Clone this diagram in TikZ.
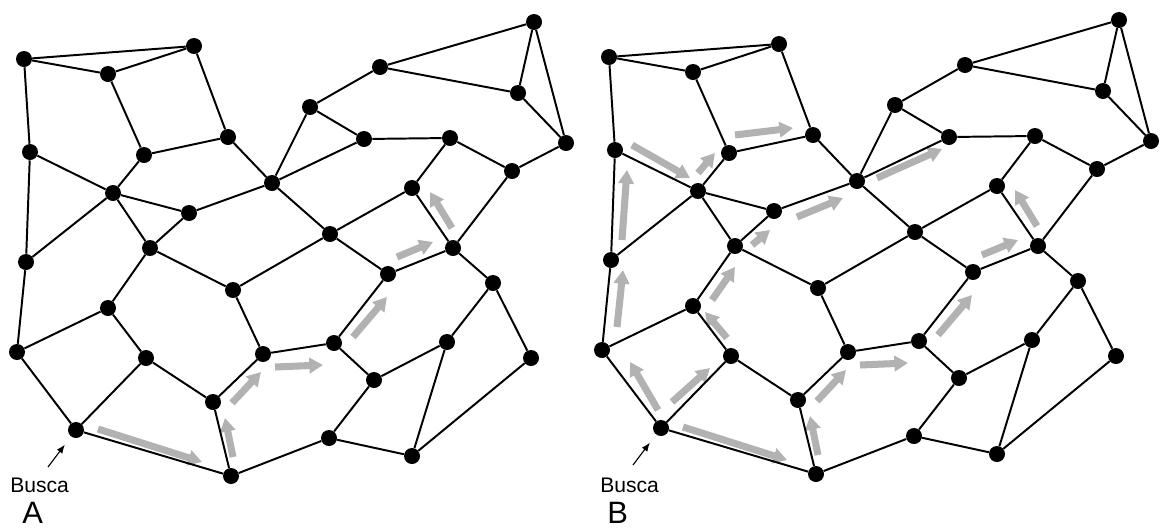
\documentclass[tikz,border=0pt]{standalone}
\usepackage{fontspec}
\newfontfamily\rotulofont{Liberation Sans}
\usetikzlibrary{arrows.meta}

% grafo: vertices e arestas (#1 = prefixo dos nomes)
\newcommand{\grafo}[1]{%
  \foreach \n/\x/\y in {1/24/59, 2/108/74, 3/194/46, 4/228/137, 5/144/155,
      6/30/152, 7/113/193, 8/189/213, 9/272/183, 10/150/248, 11/26/262,
      12/108/308, 13/233/290, 14/146/358, 15/17/352, 16/76/430, 17/213/402,
      18/263/354, 19/231/476, 20/330/234, 21/310/107, 22/380/67, 23/364/139,
      24/450/138, 25/534/22, 26/518/93, 27/566/143, 28/512/171, 29/412/188,
      30/453/248, 31/388/274, 32/334/343, 33/493/283, 34/374/380, 35/447/342,
      36/531/358, 37/329/438, 38/412/456}
    \node[vertice] (#1\n) at (\x,\y) {};
  \foreach \p/\q in {1/2, 1/3, 2/3, 1/6, 2/5, 3/4, 4/5, 4/9, 5/7, 6/7, 6/11,
      7/8, 7/10, 7/11, 8/9, 8/10, 9/20, 9/21, 9/23, 10/12, 10/13, 11/15,
      12/14, 12/15, 13/18, 13/20, 14/16, 14/17, 15/16, 16/19, 17/18, 17/19,
      18/32, 19/37, 20/31, 21/22, 21/23, 22/25, 22/26, 23/24, 24/28, 24/29,
      25/26, 25/27, 26/27, 27/28, 28/30, 29/20, 29/30, 30/31, 30/33, 31/32,
      32/34, 33/35, 33/36, 34/35, 34/37, 35/38, 36/38, 37/38}
    \draw[aresta] (#1\p) -- (#1\q);
}

% caminhos da busca
\def\rotaA{98/429/202/462, 233/457/225/418, 232/403/261/372, 275/367/323/365,
  353/337/387/297, 397/257/433/242, 452/228/430/192}
\def\rotaB{73/412/45/364, 32/329/38/272, 37/242/42/172, 47/147/105/180,
  113/175/130/155, 150/137/208/130, 212/219/258/200, 167/247/185/232,
  127/302/150/269, 142/340/120/314, 87/404/125/370, 292/180/357/151}

\begin{document}
\begin{tikzpicture}[x=0.025cm, y=-0.025cm,
    vertice/.style={circle, fill=black, inner sep=0pt, minimum size=0.4cm},
    aresta/.style={line width=1.4pt},
    passo/.style={line width=5pt, black!30, -{Triangle[length=0.34cm, width=0.38cm]}},
    indica/.style={line width=0.8pt, -{Latex[length=0.22cm, width=0.17cm]}},
    rotulo/.style={font=\rotulofont\fontsize{15}{15}\selectfont, anchor=base west, inner sep=0pt},
    letra/.style={font=\rotulofont\fontsize{22}{22}\selectfont, anchor=base west, inner sep=0pt}]
  \useasboundingbox (0,0) rectangle (1160,528);

  % A
  \foreach \xa/\ya/\xb/\yb in \rotaA
    \draw[passo] (\xa,\ya) -- (\xb,\yb);
  \grafo{a}
  \node[rotulo] (buscaA) at (10,492) {Busca};
  \node[letra] (letraA) at (22,523) {A};
  \coordinate (iniA) at (48,467);
  \draw[indica, shorten >=0.25cm] (iniA) -- (a16);

  % B
  \begin{scope}[shift={(585,-2)}]
    \foreach \xa/\ya/\xb/\yb in \rotaA
      \draw[passo] (\xa,\ya) -- (\xb,\yb);
    \foreach \xa/\ya/\xb/\yb in \rotaB
      \draw[passo] (\xa,\ya) -- (\xb,\yb);
    \grafo{b}
  \end{scope}
  \node[rotulo] (buscaB) at (600,492) {Busca};
  \node[letra] (letraB) at (607,523) {B};
  \coordinate (iniB) at (633,465);
  \draw[indica, shorten >=0.25cm] (iniB) -- (b16);
\end{tikzpicture}
\end{document}
